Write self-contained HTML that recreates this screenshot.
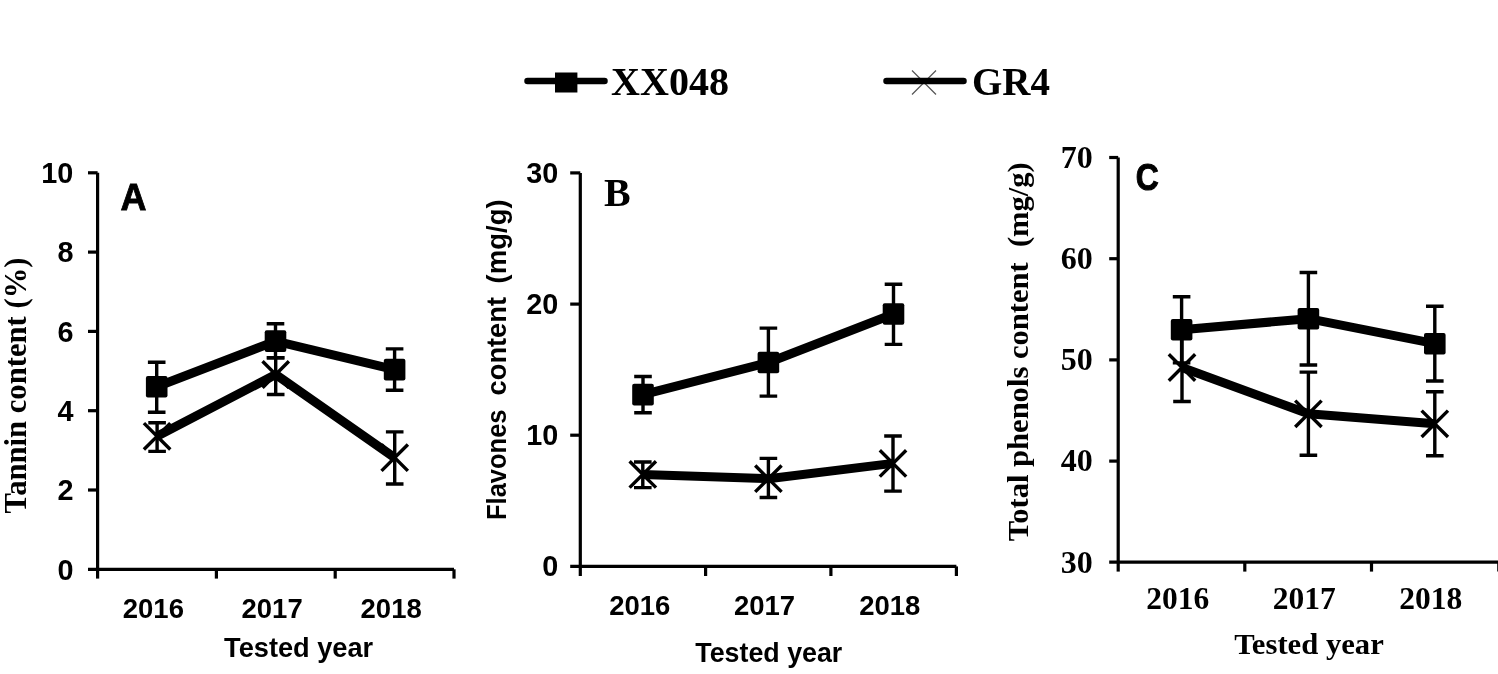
<!DOCTYPE html><html><head><meta charset="utf-8"><title>Chart</title><style>html,body{margin:0;padding:0;background:#fff;}svg{display:block;}</style></head><body>
<svg width="1498" height="674" viewBox="0 0 1498 674">
<rect width="1498" height="674" fill="#fff"/>
<path d="M527.5 81H604.5" stroke="#000" stroke-width="6.5" stroke-linecap="round"/>
<rect x="555" y="72.5" width="22.4" height="20" fill="#000"/>
<text x="611" y="94.5" font-family="'Liberation Serif', 'Times New Roman', serif" font-size="39" font-weight="bold" text-anchor="start" textLength="118" lengthAdjust="spacingAndGlyphs">XX048</text>
<path d="M912.0 70.5L936.0 94.5M912.0 94.5L936.0 70.5" stroke="#555" stroke-width="1.2" fill="none"/>
<path d="M886.5 81H963.5" stroke="#000" stroke-width="6.5" stroke-linecap="round"/>
<text x="972" y="94.5" font-family="'Liberation Serif', 'Times New Roman', serif" font-size="39" font-weight="bold" text-anchor="start" textLength="78" lengthAdjust="spacingAndGlyphs">GR4</text>
<path d="M97.6 172.8V569.3" stroke="#000" stroke-width="3.2" fill="none"/>
<path d="M88 172.8H97.6" stroke="#000" stroke-width="3.2" fill="none"/>
<path d="M88 252.1H97.6" stroke="#000" stroke-width="3.2" fill="none"/>
<path d="M88 331.4H97.6" stroke="#000" stroke-width="3.2" fill="none"/>
<path d="M88 410.7H97.6" stroke="#000" stroke-width="3.2" fill="none"/>
<path d="M88 490.0H97.6" stroke="#000" stroke-width="3.2" fill="none"/>
<path d="M88 569.3H454.0" stroke="#000" stroke-width="3.2" fill="none"/>
<path d="M97.6 569.3V578.6" stroke="#000" stroke-width="3.2" fill="none"/>
<path d="M216.4 569.3V578.6" stroke="#000" stroke-width="3.2" fill="none"/>
<path d="M335.2 569.3V578.6" stroke="#000" stroke-width="3.2" fill="none"/>
<path d="M454.0 569.3V578.6" stroke="#000" stroke-width="3.2" fill="none"/>
<text x="73.4" y="183.0" font-family="'Liberation Sans', Arial, sans-serif" font-size="28.8" font-weight="bold" text-anchor="end">10</text>
<text x="73.4" y="262.3" font-family="'Liberation Sans', Arial, sans-serif" font-size="28.8" font-weight="bold" text-anchor="end">8</text>
<text x="73.4" y="341.6" font-family="'Liberation Sans', Arial, sans-serif" font-size="28.8" font-weight="bold" text-anchor="end">6</text>
<text x="73.4" y="420.9" font-family="'Liberation Sans', Arial, sans-serif" font-size="28.8" font-weight="bold" text-anchor="end">4</text>
<text x="73.4" y="500.2" font-family="'Liberation Sans', Arial, sans-serif" font-size="28.8" font-weight="bold" text-anchor="end">2</text>
<text x="73.4" y="579.5" font-family="'Liberation Sans', Arial, sans-serif" font-size="28.8" font-weight="bold" text-anchor="end">0</text>
<text x="120.6" y="209.6" font-family="'Liberation Sans', Arial, sans-serif" font-size="36" font-weight="bold" text-anchor="start" stroke="#000" stroke-width="0.8">A</text>
<text x="26" y="385.5" font-family="'Liberation Serif', 'Times New Roman', serif" font-size="32" font-weight="bold" text-anchor="middle" textLength="256" lengthAdjust="spacingAndGlyphs" transform="rotate(-90 26 385.5)">Tannin content (%)</text>
<text x="153.35" y="618.2" font-family="'Liberation Sans', Arial, sans-serif" font-size="27.5" font-weight="bold" text-anchor="middle">2016</text>
<text x="272.1" y="618.2" font-family="'Liberation Sans', Arial, sans-serif" font-size="27.5" font-weight="bold" text-anchor="middle">2017</text>
<text x="391.15" y="618.2" font-family="'Liberation Sans', Arial, sans-serif" font-size="27.5" font-weight="bold" text-anchor="middle">2018</text>
<text x="298.6" y="656.8" font-family="'Liberation Sans', Arial, sans-serif" font-size="28" font-weight="bold" text-anchor="middle" textLength="149" lengthAdjust="spacingAndGlyphs">Tested year</text>
<path d="M156.7 362.3V412.3M147.9 362.3H165.5M147.9 412.3H165.5" stroke="#000" stroke-width="3.4" fill="none"/>
<path d="M275.5 323.8V357.8M266.7 323.8H284.3M266.7 357.8H284.3" stroke="#000" stroke-width="3.4" fill="none"/>
<path d="M394.6 348.9V390.2M385.8 348.9H403.4M385.8 390.2H403.4" stroke="#000" stroke-width="3.4" fill="none"/>
<path d="M157.1 422.8V451.4M148.3 422.8H165.9M148.3 451.4H165.9" stroke="#000" stroke-width="3.4" fill="none"/>
<path d="M275.7 357.8V394.5M266.9 357.8H284.5M266.9 394.5H284.5" stroke="#000" stroke-width="3.4" fill="none"/>
<path d="M394.7 431.9V484.0M385.9 431.9H403.5M385.9 484.0H403.5" stroke="#000" stroke-width="3.4" fill="none"/>
<path d="M156.7 386.7 L275.5 341.1 L394.6 369.6" stroke="#000" stroke-width="9.0" fill="none" stroke-linejoin="round"/>
<path d="M157.1 436.3 L275.7 374.5 L394.7 457.7" stroke="#000" stroke-width="9.0" fill="none" stroke-linejoin="round"/>
<rect x="145.9" y="375.9" width="21.6" height="21.6" rx="2" fill="#000"/>
<rect x="264.7" y="330.3" width="21.6" height="21.6" rx="2" fill="#000"/>
<rect x="383.8" y="358.8" width="21.6" height="21.6" rx="2" fill="#000"/>
<path d="M143.9 423.1L170.3 449.5M143.9 449.5L170.3 423.1" stroke="#000" stroke-width="3.4" fill="none"/>
<path d="M262.5 361.3L288.9 387.7M262.5 387.7L288.9 361.3" stroke="#000" stroke-width="3.4" fill="none"/>
<path d="M381.5 444.5L407.9 470.9M381.5 470.9L407.9 444.5" stroke="#000" stroke-width="3.4" fill="none"/>
<path d="M580.3 172.9V566.4" stroke="#000" stroke-width="3.2" fill="none"/>
<path d="M570.2 172.9H580.3" stroke="#000" stroke-width="3.2" fill="none"/>
<path d="M570.2 304.1H580.3" stroke="#000" stroke-width="3.2" fill="none"/>
<path d="M570.2 435.2H580.3" stroke="#000" stroke-width="3.2" fill="none"/>
<path d="M570.2 566.4H956.4" stroke="#000" stroke-width="3.2" fill="none"/>
<path d="M580.3 566.4V576" stroke="#000" stroke-width="3.2" fill="none"/>
<path d="M705.6 566.4V576" stroke="#000" stroke-width="3.2" fill="none"/>
<path d="M830.9 566.4V576" stroke="#000" stroke-width="3.2" fill="none"/>
<path d="M956.4 566.4V576" stroke="#000" stroke-width="3.2" fill="none"/>
<text x="558.2" y="182.9" font-family="'Liberation Sans', Arial, sans-serif" font-size="28.8" font-weight="bold" text-anchor="end">30</text>
<text x="558.2" y="314.1" font-family="'Liberation Sans', Arial, sans-serif" font-size="28.8" font-weight="bold" text-anchor="end">20</text>
<text x="558.2" y="445.2" font-family="'Liberation Sans', Arial, sans-serif" font-size="28.8" font-weight="bold" text-anchor="end">10</text>
<text x="558.2" y="576.4" font-family="'Liberation Sans', Arial, sans-serif" font-size="28.8" font-weight="bold" text-anchor="end">0</text>
<text x="604" y="206.1" font-family="'Liberation Serif', 'Times New Roman', serif" font-size="40" font-weight="bold" text-anchor="start">B</text>
<text x="506.3" y="464.7" font-family="'Liberation Sans', Arial, sans-serif" font-size="27.5" font-weight="bold" text-anchor="middle" textLength="110.5" lengthAdjust="spacingAndGlyphs" transform="rotate(-90 506.3 464.7)">Flavones</text>
<text x="506.3" y="346.2" font-family="'Liberation Sans', Arial, sans-serif" font-size="27.5" font-weight="bold" text-anchor="middle" textLength="98.5" lengthAdjust="spacingAndGlyphs" transform="rotate(-90 506.3 346.2)">content</text>
<text x="506.3" y="241.4" font-family="'Liberation Sans', Arial, sans-serif" font-size="27.5" font-weight="bold" text-anchor="middle" textLength="84" lengthAdjust="spacingAndGlyphs" transform="rotate(-90 506.3 241.4)">(mg/g)</text>
<text x="639.8" y="614.9" font-family="'Liberation Sans', Arial, sans-serif" font-size="27.5" font-weight="bold" text-anchor="middle">2016</text>
<text x="764.55" y="614.9" font-family="'Liberation Sans', Arial, sans-serif" font-size="27.5" font-weight="bold" text-anchor="middle">2017</text>
<text x="889.75" y="614.9" font-family="'Liberation Sans', Arial, sans-serif" font-size="27.5" font-weight="bold" text-anchor="middle">2018</text>
<text x="768.8" y="662.1" font-family="'Liberation Sans', Arial, sans-serif" font-size="28" font-weight="bold" text-anchor="middle" textLength="147" lengthAdjust="spacingAndGlyphs">Tested year</text>
<path d="M643.0 376.5V412.8M634.2 376.5H651.8M634.2 412.8H651.8" stroke="#000" stroke-width="3.4" fill="none"/>
<path d="M768.4 328.1V396.1M759.6 328.1H777.2M759.6 396.1H777.2" stroke="#000" stroke-width="3.4" fill="none"/>
<path d="M893.5 284.3V344.4M884.7 284.3H902.3M884.7 344.4H902.3" stroke="#000" stroke-width="3.4" fill="none"/>
<path d="M642.8 462.0V487.6M634.0 462.0H651.6M634.0 487.6H651.6" stroke="#000" stroke-width="3.4" fill="none"/>
<path d="M768.4 458.4V497.5M759.6 458.4H777.2M759.6 497.5H777.2" stroke="#000" stroke-width="3.4" fill="none"/>
<path d="M893.0 436.0V491.1M884.2 436.0H901.8M884.2 491.1H901.8" stroke="#000" stroke-width="3.4" fill="none"/>
<path d="M643.0 394.6 L768.4 362.5 L893.5 314.0" stroke="#000" stroke-width="9.0" fill="none" stroke-linejoin="round"/>
<path d="M642.8 474.4 L768.4 478.7 L893.0 463.4" stroke="#000" stroke-width="9.0" fill="none" stroke-linejoin="round"/>
<rect x="632.2" y="383.8" width="21.6" height="21.6" rx="2" fill="#000"/>
<rect x="757.6" y="351.7" width="21.6" height="21.6" rx="2" fill="#000"/>
<rect x="882.7" y="303.2" width="21.6" height="21.6" rx="2" fill="#000"/>
<path d="M629.6 461.2L656.0 487.6M629.6 487.6L656.0 461.2" stroke="#000" stroke-width="3.4" fill="none"/>
<path d="M755.2 465.5L781.6 491.9M755.2 491.9L781.6 465.5" stroke="#000" stroke-width="3.4" fill="none"/>
<path d="M879.8 450.2L906.2 476.6M879.8 476.6L906.2 450.2" stroke="#000" stroke-width="3.4" fill="none"/>
<path d="M1118.2 157.5V562.2" stroke="#000" stroke-width="3.2" fill="none"/>
<path d="M1109.2 157.5H1118.2" stroke="#000" stroke-width="3.2" fill="none"/>
<path d="M1109.2 258.7H1118.2" stroke="#000" stroke-width="3.2" fill="none"/>
<path d="M1109.2 359.9H1118.2" stroke="#000" stroke-width="3.2" fill="none"/>
<path d="M1109.2 461.1H1118.2" stroke="#000" stroke-width="3.2" fill="none"/>
<path d="M1109.2 562.2H1498" stroke="#000" stroke-width="3.2" fill="none"/>
<path d="M1118.2 562.2V571.6" stroke="#000" stroke-width="3.2" fill="none"/>
<path d="M1244.8 562.2V571.6" stroke="#000" stroke-width="3.2" fill="none"/>
<path d="M1371.5 562.2V571.6" stroke="#000" stroke-width="3.2" fill="none"/>
<path d="M1498.8 562.2V571.6" stroke="#000" stroke-width="3.2" fill="none"/>
<text x="1092.8" y="167.8" font-family="'Liberation Serif', 'Times New Roman', serif" font-size="32" font-weight="bold" text-anchor="end">70</text>
<text x="1092.8" y="269.0" font-family="'Liberation Serif', 'Times New Roman', serif" font-size="32" font-weight="bold" text-anchor="end">60</text>
<text x="1092.8" y="370.2" font-family="'Liberation Serif', 'Times New Roman', serif" font-size="32" font-weight="bold" text-anchor="end">50</text>
<text x="1092.8" y="471.4" font-family="'Liberation Serif', 'Times New Roman', serif" font-size="32" font-weight="bold" text-anchor="end">40</text>
<text x="1092.8" y="572.5" font-family="'Liberation Serif', 'Times New Roman', serif" font-size="32" font-weight="bold" text-anchor="end">30</text>
<text x="1135.8" y="189.8" font-family="'Liberation Sans', Arial, sans-serif" font-size="37" font-weight="bold" text-anchor="start" textLength="23" lengthAdjust="spacingAndGlyphs" stroke="#000" stroke-width="1">C</text>
<text x="1028" y="351.8" font-family="'Liberation Serif', 'Times New Roman', serif" font-size="30" font-weight="bold" text-anchor="middle" textLength="379" lengthAdjust="spacingAndGlyphs" transform="rotate(-90 1028 351.8)">Total phenols content&#160; (mg/g)</text>
<text x="1177.7" y="608.8" font-family="'Liberation Serif', 'Times New Roman', serif" font-size="31.5" font-weight="bold" text-anchor="middle">2016</text>
<text x="1304.15" y="608.8" font-family="'Liberation Serif', 'Times New Roman', serif" font-size="31.5" font-weight="bold" text-anchor="middle">2017</text>
<text x="1430.75" y="608.8" font-family="'Liberation Serif', 'Times New Roman', serif" font-size="31.5" font-weight="bold" text-anchor="middle">2018</text>
<text x="1309" y="653.9" font-family="'Liberation Serif', 'Times New Roman', serif" font-size="29.5" font-weight="bold" text-anchor="middle" textLength="149.5" lengthAdjust="spacingAndGlyphs">Tested year</text>
<path d="M1181.6 296.7V362.9M1172.8 296.7H1190.4M1172.8 362.9H1190.4" stroke="#000" stroke-width="3.4" fill="none"/>
<path d="M1308.4 272.5V365.0M1299.6 272.5H1317.2M1299.6 365.0H1317.2" stroke="#000" stroke-width="3.4" fill="none"/>
<path d="M1434.8 306.3V381.0M1426.0 306.3H1443.6M1426.0 381.0H1443.6" stroke="#000" stroke-width="3.4" fill="none"/>
<path d="M1182.0 334.0V401.5M1173.2 334.0H1190.8M1173.2 401.5H1190.8" stroke="#000" stroke-width="3.4" fill="none"/>
<path d="M1308.4 372.1V455.3M1299.6 372.1H1317.2M1299.6 455.3H1317.2" stroke="#000" stroke-width="3.4" fill="none"/>
<path d="M1434.8 391.7V455.8M1426.0 391.7H1443.6M1426.0 455.8H1443.6" stroke="#000" stroke-width="3.4" fill="none"/>
<path d="M1181.6 329.8 L1308.4 318.7 L1434.8 343.7" stroke="#000" stroke-width="9.0" fill="none" stroke-linejoin="round"/>
<path d="M1182.0 367.5 L1308.4 413.8 L1434.8 423.8" stroke="#000" stroke-width="9.0" fill="none" stroke-linejoin="round"/>
<rect x="1170.8" y="319.0" width="21.6" height="21.6" rx="2" fill="#000"/>
<rect x="1297.6" y="307.9" width="21.6" height="21.6" rx="2" fill="#000"/>
<rect x="1424.0" y="332.9" width="21.6" height="21.6" rx="2" fill="#000"/>
<path d="M1168.8 354.3L1195.2 380.7M1168.8 380.7L1195.2 354.3" stroke="#000" stroke-width="3.4" fill="none"/>
<path d="M1295.2 400.6L1321.6 427.0M1295.2 427.0L1321.6 400.6" stroke="#000" stroke-width="3.4" fill="none"/>
<path d="M1421.6 410.6L1448.0 437.0M1421.6 437.0L1448.0 410.6" stroke="#000" stroke-width="3.4" fill="none"/>
</svg></body></html>
